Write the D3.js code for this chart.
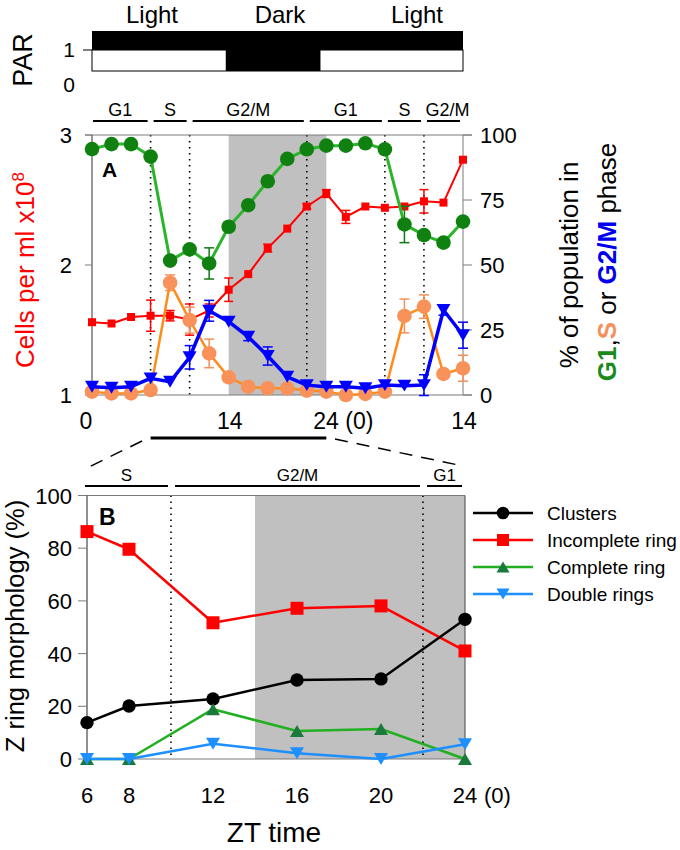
<!DOCTYPE html>
<html><head><meta charset="utf-8">
<script src="https://cdn.jsdelivr.net/npm/d3@7"></script>
<style>body{margin:0;background:#fff}svg{display:block;font-family:"Liberation Sans",Arial,sans-serif}</style>
</head><body><svg id="c" width="680" height="850"></svg>
<script>
// ---------- DATA ----------
const hoursA = [0,2,4,6,8,10,12,14,16,18,20,22,24,26,28,30,32,34,36,38];
const cells    = [1.56,1.55,1.60,1.61,1.61,1.58,1.65,1.81,1.93,2.13,2.28,2.45,2.55,2.37,2.45,2.44,2.45,2.49,2.48,2.81];
const cellsErr = [0,0,0,0.12,0.04,0.12,0.05,0.09,0,0.03,0,0.02,0.03,0.05,0,0,0,0.09,0,0];
const g1       = [94.6,96.5,96.5,91.7,51.7,56.0,50.6,64.7,73.0,82.2,90.8,94.5,95.9,95.9,96.8,94.5,65.6,61.5,58.6,66.7];
const g1Err    = [0,0,0,0,0,0,6,0,0,0,0,0,0,0,0,0,7,0,0,0];
const sPhase   = [1.3,0.6,0.6,1.9,43.2,28.8,16.0,6.8,3.2,2.6,2.6,1.7,1.3,0,0.4,1.3,30.4,34.0,8.1,10.3];
const sErr     = [0,0,0,0,3,5,5.5,0,0,0,0,0,0,0,0,0,6.5,4.5,1,5];
const g2m      = [3.2,2.8,3.2,6.4,5.1,14.5,32.4,28.2,22.4,15.0,7.0,3.8,3.2,3.2,2.6,3.8,3.6,3.8,32.7,23.0];
const g2mErr   = [0,0,0,0,0,4.5,4,0,1.5,3.5,0,0,0,0,0,0,0,4,2,5];

const parDark = [13.7, 23.4];
const darkA = [14, 24];
const dottedA = [6, 10, 22, 30, 34];
const phasesA = [["G1",0,6],["S",6,10],["G2/M",10,22],["G1",22,30],["S",30,34],["G2/M",34,38]];
const xTicksA = [0,14,24,38];
const xTickLabelsA = ["0","14","24 (0)","14"];
const yTicksCells = [1,2,3];
const yTicksPct = [0,25,50,75,100];
const lightDarkLabels = ["Light","Dark","Light"];

const hoursB = [6,8,12,16,20,24];
const clusters   = [13.8,20.1,22.8,30.0,30.4,53.0];
const incomplete = [86.3,79.6,51.7,57.2,58.1,41.0];
const complete   = [0,0,18.9,10.6,11.4,0];
const doubleRings= [0,0,5.8,2.2,0,5.6];
const seriesNamesB = ["Clusters","Incomplete ring","Complete ring","Double rings"];
const darkB = [14, 24];
const dottedB = [10, 22];
const phasesB = [["S",6,10],["G2/M",10,22],["G1",22,24]];
const xTicksB = [6,8,12,16,20,24];
const yTicksB = [0,20,40,60,80,100];

// ---------- SETUP ----------
const svg = d3.select("#c");
svg.append("rect").attr("width",680).attr("height",850).attr("fill","#fff");
const FRAME = "#7a7a7a";

const xA = d3.scaleLinear().domain([0,38]).range([92,463]);
const yCells = d3.scaleLinear().domain([1,3]).range([395,135]);
const yPct = d3.scaleLinear().domain([0,100]).range([395,135]);
const yPar = d3.scaleLinear().domain([0,1]).range([85,50]);

function triPath(w,h,down){
  return down ? `M${-w/2},${-h/2}L${w/2},${-h/2}L0,${h/2}Z` : `M${-w/2},${h/2}L${w/2},${h/2}L0,${-h/2}Z`;
}
function drawMarkers(g, xs, ys, xS, yS, type, size, fill){
  const sel = g.selectAll(null).data(xs.map((x,i)=>[x,ys[i]])).enter();
  if(type==="circle"){
    sel.append("circle").attr("cx",d=>xS(d[0])).attr("cy",d=>yS(d[1])).attr("r",size).attr("fill",fill);
  } else if(type==="square"){
    sel.append("rect").attr("x",d=>xS(d[0])-size/2).attr("y",d=>yS(d[1])-size/2).attr("width",size).attr("height",size).attr("fill",fill);
  } else {
    const down = type==="down";
    sel.append("path").attr("d",triPath(size,size*0.85,down)).attr("transform",d=>`translate(${xS(d[0])},${yS(d[1])})`).attr("fill",fill);
  }
}
function drawErr(g, xs, ys, es, xS, yS, color, cap){
  xs.forEach((x,i)=>{
    if(!es[i]) return;
    const px = xS(x), y1 = yS(ys[i]-es[i]), y2 = yS(ys[i]+es[i]);
    g.append("line").attr("x1",px).attr("x2",px).attr("y1",y1).attr("y2",y2).attr("stroke",color).attr("stroke-width",1.5);
    [y1,y2].forEach(yy=>g.append("line").attr("x1",px-cap/2).attr("x2",px+cap/2).attr("y1",yy).attr("y2",yy).attr("stroke",color).attr("stroke-width",1.5));
  });
}
function drawLine(g, xs, ys, xS, yS, color, w){
  g.append("path").datum(xs.map((x,i)=>[x,ys[i]]))
    .attr("d", d3.line().x(d=>xS(d[0])).y(d=>yS(d[1])))
    .attr("fill","none").attr("stroke",color).attr("stroke-width",w).attr("stroke-linejoin","round");
}

// ---------- PAR STRIP ----------
const lx = [152, 280, 417];
svg.selectAll(null).data(lightDarkLabels).enter().append("text")
  .attr("x",(d,i)=>lx[i]).attr("y",23).attr("text-anchor","middle").attr("font-size",24).text(d=>d);
svg.append("rect").attr("x",xA(0)).attr("y",31).attr("width",xA(38)-xA(0)).attr("height",yPar(1)-31).attr("fill","#000");
svg.append("rect").attr("x",xA(0)).attr("y",yPar(1)).attr("width",xA(38)-xA(0)).attr("height",21).attr("fill","#fff").attr("stroke","#000").attr("stroke-width",1);
svg.append("rect").attr("x",xA(parDark[0])).attr("y",yPar(1)).attr("width",xA(parDark[1])-xA(parDark[0])).attr("height",21).attr("fill","#000");
svg.append("line").attr("x1",xA(0)-9).attr("x2",xA(0)).attr("y1",yPar(1)).attr("y2",yPar(1)).attr("stroke","#000");
[1,0].forEach(v=>svg.append("text").attr("x",75).attr("y",yPar(v)+7).attr("text-anchor","end").attr("font-size",21).text(v));
svg.append("text").attr("transform","translate(32,60) rotate(-90)").attr("text-anchor","middle").attr("font-size",27).text("PAR");

// ---------- PHASE BARS A ----------
const phA = svg.append("g");
phasesA.forEach(p=>{
  const x1 = xA(p[1])+ (p[1]===0?1:3), x2 = xA(p[2]) - 3;
  phA.append("line").attr("x1",x1).attr("x2",x2).attr("y1",121).attr("y2",121).attr("stroke","#000").attr("stroke-width",2);
  phA.append("text").attr("x",(x1+x2)/2 + (p[0]==="G2/M"&&p[1]===34?4:0)).attr("y",116).attr("text-anchor","middle").attr("font-size",18).text(p[0]);
});

// ---------- PANEL A ----------
const gA = svg.append("g");
gA.append("rect").attr("x",xA(darkA[0])).attr("y",yCells(3)).attr("width",xA(darkA[1])-xA(darkA[0])).attr("height",yCells(1)-yCells(3)).attr("fill","#c0c0c0");
dottedA.forEach(h=>gA.append("line").attr("x1",xA(h)).attr("x2",xA(h)).attr("y1",yCells(3)).attr("y2",yCells(1)).attr("stroke","#000").attr("stroke-width",1.6).attr("stroke-dasharray","1.6,4.4"));
// frame
gA.append("line").attr("x1",85).attr("x2",472).attr("y1",yCells(3)).attr("y2",yCells(3)).attr("stroke",FRAME);
gA.append("line").attr("x1",xA(0)).attr("x2",472).attr("y1",yCells(1)).attr("y2",yCells(1)).attr("stroke",FRAME);
gA.append("line").attr("x1",xA(0)).attr("x2",xA(0)).attr("y1",yCells(3)).attr("y2",yCells(1)).attr("stroke","#333");
gA.append("line").attr("x1",xA(38)).attr("x2",xA(38)).attr("y1",yCells(3)).attr("y2",yCells(1)).attr("stroke",FRAME);
yTicksCells.forEach(v=>{
  gA.append("line").attr("x1",xA(0)-7).attr("x2",xA(0)).attr("y1",yCells(v)).attr("y2",yCells(v)).attr("stroke",FRAME);
  gA.append("text").attr("x",72).attr("y",yCells(v)+8).attr("text-anchor","end").attr("font-size",22).text(v);
});
yTicksPct.forEach(v=>{
  gA.append("line").attr("x1",xA(38)).attr("x2",xA(38)+9).attr("y1",yPct(v)).attr("y2",yPct(v)).attr("stroke",FRAME);
  gA.append("text").attr("x",480).attr("y",yPct(v)+8).attr("text-anchor","start").attr("font-size",22).text(v);
});
xTicksA.forEach((v,i)=>{
  const lab = xTickLabelsA[i];
  if(lab.indexOf("(")>=0){
    gA.append("text").attr("x",xA(v)-13).attr("y",429).attr("text-anchor","start").attr("font-size",23).text(lab);
  } else {
    gA.append("text").attr("x",xA(v)+(i===0?-6:1)).attr("y",429).attr("text-anchor","middle").attr("font-size",23).text(lab);
  }
});
gA.append("text").attr("x",102).attr("y",177).attr("font-size",21).attr("font-weight","bold").text("A");

// series
drawErr(gA,hoursA,cells,cellsErr,xA,yCells,"#ff0000",9);
drawLine(gA,hoursA,cells,xA,yCells,"#ff0000",2);
drawMarkers(gA,hoursA,cells,xA,yCells,"square",8,"#ff0000");
drawErr(gA,hoursA,g1,g1Err,xA,yPct,"#127a12",10);
drawLine(gA,hoursA,g1,xA,yPct,"#2bb52b",3);
drawMarkers(gA,hoursA,g1,xA,yPct,"circle",7.3,"#108010");
drawErr(gA,hoursA,sPhase,sErr,xA,yPct,"#f4905a",10);
drawLine(gA,hoursA,sPhase,xA,yPct,"#ff8c1a",2.5);
drawMarkers(gA,hoursA,sPhase,xA,yPct,"circle",7.3,"#f8915a");
drawErr(gA,hoursA,g2m,g2mErr,xA,yPct,"#0000ff",10);
drawLine(gA,hoursA,g2m,xA,yPct,"#0000ff",3.5);
drawMarkers(gA,hoursA,g2m,xA,yPct,"down",14,"#0000ff");

// axis titles A
const tl = svg.append("text").attr("transform","translate(34,270) rotate(-90)").attr("text-anchor","middle").attr("font-size",26).attr("fill","#ff0000");
tl.append("tspan").text("Cells per ml x10");
tl.append("tspan").attr("dy",-10).attr("font-size",17).text("8");
svg.append("text").attr("transform","translate(578,265) rotate(-90)").attr("text-anchor","middle").attr("font-size",26).text("% of population in");
const t2 = svg.append("text").attr("transform","translate(616,262) rotate(-90)").attr("text-anchor","middle").attr("font-size",26);
t2.append("tspan").attr("fill","#1a8a1a").attr("font-weight","bold").text("G1");
t2.append("tspan").text(",");
t2.append("tspan").attr("fill","#f4905a").attr("font-weight","bold").text("S");
t2.append("tspan").text(" or ");
t2.append("tspan").attr("fill","#0000ee").attr("font-weight","bold").text("G2/M");
t2.append("tspan").text(" phase");

// zoom connector
svg.append("line").attr("x1",xA(6)).attr("x2",xA(24)).attr("y1",438).attr("y2",438).attr("stroke","#000").attr("stroke-width",3);
svg.append("line").attr("x1",142).attr("y1",441).attr("x2",89).attr("y2",467).attr("stroke","#000").attr("stroke-width",1.5).attr("stroke-dasharray","13,9");
svg.append("line").attr("x1",335).attr("y1",439).attr("x2",463).attr("y2",466).attr("stroke","#000").attr("stroke-width",1.5).attr("stroke-dasharray","13,9");

// ---------- PANEL B ----------
const xB = d3.scaleLinear().domain([6,24]).range([87,465]);
const yB = d3.scaleLinear().domain([0,100]).range([759,495.5]);
const gB = svg.append("g");
phasesB.forEach(p=>{
  const x1 = xB(p[1]) + (p[1]===6?-2:4), x2 = xB(p[2]) - 3;
  gB.append("line").attr("x1",x1).attr("x2",x2).attr("y1",486).attr("y2",486).attr("stroke","#000").attr("stroke-width",2);
  gB.append("text").attr("x",(x1+x2)/2).attr("y",481).attr("text-anchor","middle").attr("font-size",17).text(p[0]);
});
gB.append("rect").attr("x",xB(darkB[0])).attr("y",yB(100)).attr("width",xB(darkB[1])-xB(darkB[0])).attr("height",yB(0)-yB(100)).attr("fill","#c0c0c0");
dottedB.forEach(h=>gB.append("line").attr("x1",xB(h)).attr("x2",xB(h)).attr("y1",yB(100)).attr("y2",yB(0)).attr("stroke","#000").attr("stroke-width",1.6).attr("stroke-dasharray","1.6,4.4"));
gB.append("line").attr("x1",xB(6)).attr("x2",xB(24)).attr("y1",yB(100)).attr("y2",yB(100)).attr("stroke",FRAME);
gB.append("line").attr("x1",xB(6)).attr("x2",xB(24)).attr("y1",yB(0)).attr("y2",yB(0)).attr("stroke",FRAME);
gB.append("line").attr("x1",xB(6)).attr("x2",xB(6)).attr("y1",yB(100)).attr("y2",yB(0)).attr("stroke","#222");
gB.append("line").attr("x1",xB(24)).attr("x2",xB(24)).attr("y1",yB(100)).attr("y2",yB(0)).attr("stroke","#444");
yTicksB.forEach(v=>{
  gB.append("line").attr("x1",xB(6)-9).attr("x2",xB(6)).attr("y1",yB(v)).attr("y2",yB(v)).attr("stroke",FRAME);
  gB.append("text").attr("x",72).attr("y",yB(v)+8).attr("text-anchor","end").attr("font-size",22).text(v);
});
xTicksB.forEach(v=>{
  gB.append("text").attr("x",xB(v)).attr("y",803).attr("text-anchor","middle").attr("font-size",22).text(v);
});
gB.append("text").attr("x",xB(24)+19).attr("y",803).attr("font-size",22).text("(0)");
gB.append("text").attr("x",99).attr("y",525).attr("font-size",23).attr("font-weight","bold").text("B");
svg.append("text").attr("x",274).attr("y",842).attr("text-anchor","middle").attr("font-size",28).text("ZT time");
svg.append("text").attr("transform","translate(23.5,626) rotate(-90)").attr("text-anchor","middle").attr("font-size",25.5).text("Z ring morphology (%)");

const colB = {cl:"#000", inc:"#ff0000", compL:"#22b022", compM:"#1a7a3c", dbl:"#1e8fff"};
drawLine(gB,hoursB,incomplete,xB,yB,colB.inc,2.5);
drawLine(gB,hoursB,clusters,xB,yB,colB.cl,2.5);
drawLine(gB,hoursB,complete,xB,yB,colB.compL,2.5);
drawLine(gB,hoursB,doubleRings,xB,yB,colB.dbl,2.5);
drawMarkers(gB,hoursB,incomplete,xB,yB,"square",13,colB.inc);
drawMarkers(gB,hoursB,clusters,xB,yB,"circle",6.7,colB.cl);
drawMarkers(gB,hoursB,complete,xB,yB,"up",14,colB.compM);
drawMarkers(gB,hoursB,doubleRings,xB,yB,"down",14,colB.dbl);

// legend
const legStyles = [[colB.cl,colB.cl,"circle"],[colB.inc,colB.inc,"square"],[colB.compL,colB.compM,"up"],[colB.dbl,colB.dbl,"down"]];
seriesNamesB.forEach((name,i)=>{
  const y = 513 + i*27;
  const st = legStyles[i];
  svg.append("line").attr("x1",473).attr("x2",533).attr("y1",y).attr("y2",y).attr("stroke",st[0]).attr("stroke-width",2.5);
  const m = st[2];
  if(m==="circle") svg.append("circle").attr("cx",503).attr("cy",y).attr("r",6.3).attr("fill",st[1]);
  else if(m==="square") svg.append("rect").attr("x",497).attr("y",y-6).attr("width",12).attr("height",12).attr("fill",st[1]);
  else svg.append("path").attr("d",triPath(13,11,m==="down")).attr("transform",`translate(503,${y})`).attr("fill",st[1]);
  svg.append("text").attr("x",547).attr("y",y+7).attr("font-size",19).text(name);
});
</script></body></html>
